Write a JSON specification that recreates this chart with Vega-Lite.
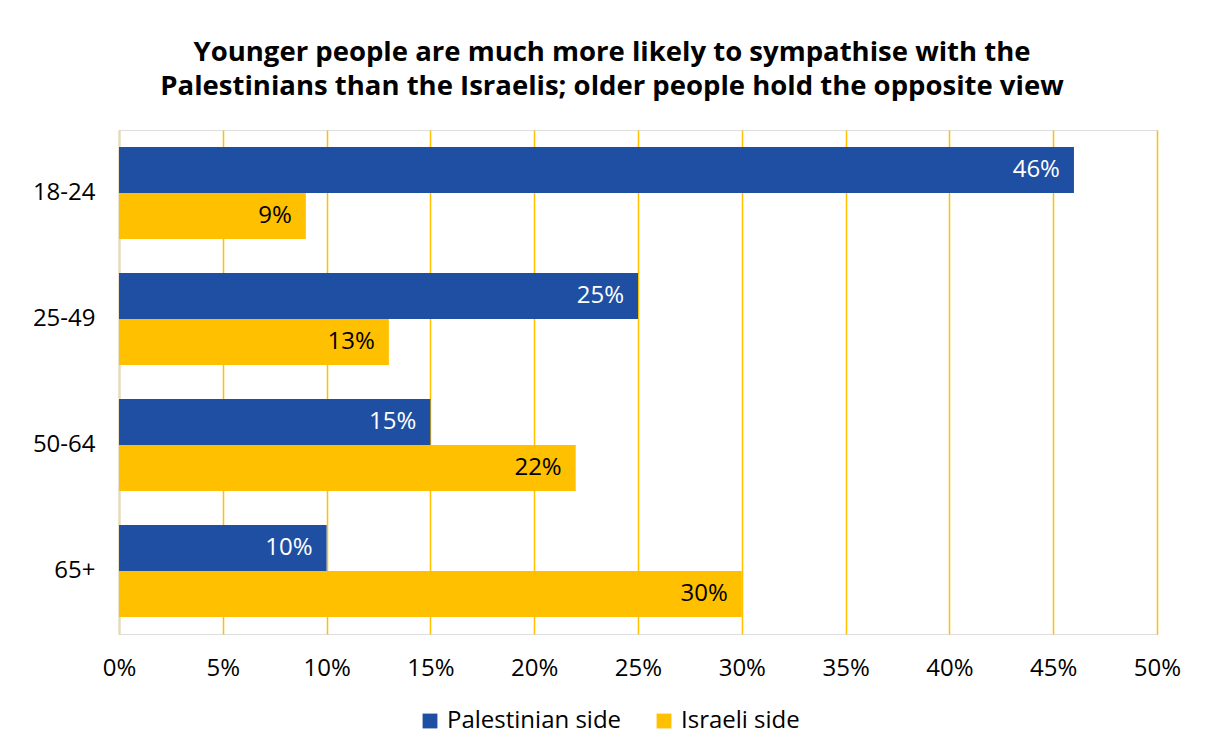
{
  "$schema": "https://vega.github.io/schema/vega-lite/v6.json",
  "width": 1038,
  "height": 504,
  "autosize": "none",
  "padding": {"left": 119, "top": 130, "right": 49, "bottom": 117},
  "background": "white",
  "title": {
    "text": ["Younger people are much more likely to sympathise with the", "Palestinians than the Israelis; older people hold the opposite view"],
    "anchor": "middle",
    "font": "Open Sans",
    "fontSize": 27.5,
    "fontWeight": "bold",
    "color": "#000000",
    "lineHeight": 34,
    "offset": 30,
    "dx": -26
  },
  "data": {
    "values": [
      {"age": "18-24", "side": "Palestinian side", "value": 0.46},
      {"age": "18-24", "side": "Israeli side", "value": 0.09},
      {"age": "25-49", "side": "Palestinian side", "value": 0.25},
      {"age": "25-49", "side": "Israeli side", "value": 0.13},
      {"age": "50-64", "side": "Palestinian side", "value": 0.15},
      {"age": "50-64", "side": "Israeli side", "value": 0.22},
      {"age": "65+", "side": "Palestinian side", "value": 0.10},
      {"age": "65+", "side": "Israeli side", "value": 0.30}
    ]
  },
  "encoding": {
    "y": {
      "field": "age",
      "type": "nominal",
      "sort": ["18-24", "25-49", "50-64", "65+"],
      "scale": {"paddingInner": 0.27, "paddingOuter": 0.135},
      "axis": {
        "title": null,
        "ticks": false,
        "domainColor": "#d9d9d9",
        "domainWidth": 2,
        "labelFont": "Open Sans",
        "labelFontSize": 24,
        "labelColor": "#000000",
        "labelPadding": 24
      }
    },
    "yOffset": {
      "field": "side",
      "type": "nominal",
      "sort": ["Palestinian side", "Israeli side"]
    },
    "x": {
      "field": "value",
      "type": "quantitative",
      "scale": {"domain": [0, 0.5], "nice": false},
      "axis": {
        "title": null,
        "values": [0, 0.05, 0.1, 0.15, 0.2, 0.25, 0.3, 0.35, 0.4, 0.45, 0.5],
        "format": ".0%",
        "labelFlush": false,
        "domain": false,
        "ticks": false,
        "grid": true,
        "gridColor": "#FFC000",
        "gridWidth": 1.5,
        "labelFont": "Open Sans",
        "labelFontSize": 24,
        "labelColor": "#000000",
        "labelPadding": 22
      }
    }
  },
  "layer": [
    {
      "mark": {"type": "bar"},
      "encoding": {
        "color": {
          "field": "side",
          "type": "nominal",
          "sort": ["Palestinian side", "Israeli side"],
          "scale": {"domain": ["Palestinian side", "Israeli side"], "range": ["#1F4FA2", "#FFC000"]},
          "legend": {
            "title": null,
            "orient": "none",
            "direction": "horizontal",
            "legendX": 299,
            "legendY": 579,
            "symbolType": "square",
            "symbolSize": 220,
            "symbolStrokeWidth": 0,
            "labelFont": "Open Sans",
            "labelFontSize": 24,
            "labelColor": "#000000",
            "labelOffset": 5,
            "labelLimit": 400,
            "columnPadding": 30
          }
        }
      }
    },
    {
      "mark": {"type": "text", "align": "right", "baseline": "middle", "dx": -14, "font": "Open Sans", "fontSize": 24},
      "encoding": {
        "text": {"field": "value", "type": "quantitative", "format": ".0%"},
        "color": {
          "condition": {"test": "datum.side === 'Palestinian side'", "value": "#ffffff"},
          "value": "#000000"
        }
      }
    }
  ]
}
